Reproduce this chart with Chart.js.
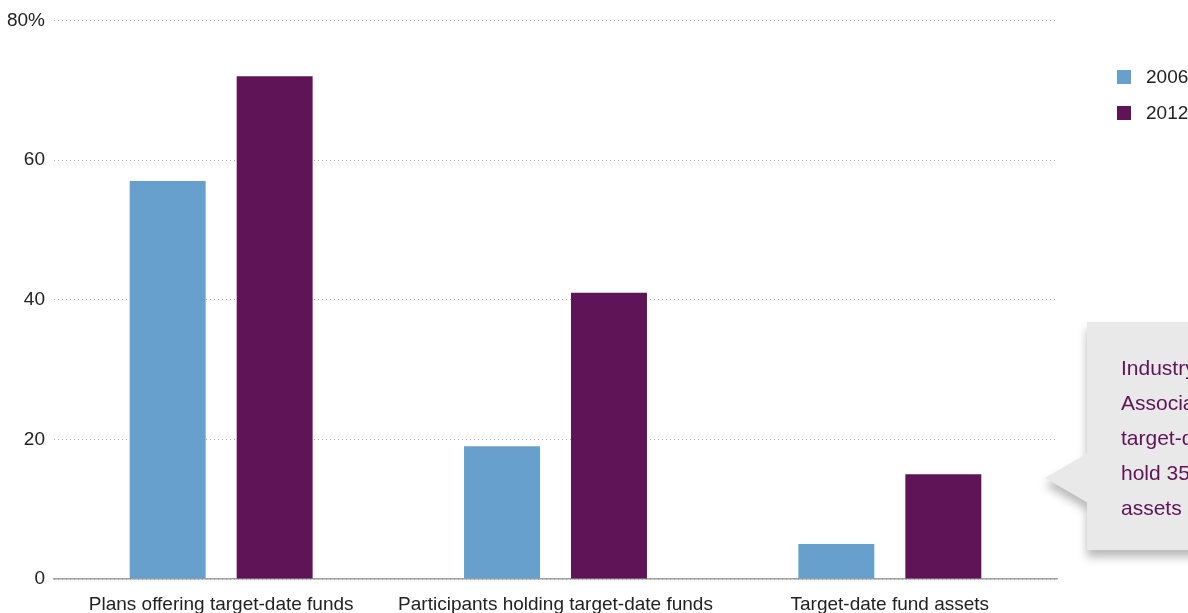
<!DOCTYPE html>
<html>
<head>
<meta charset="utf-8">
<script src="https://cdn.jsdelivr.net/npm/chart.js@4"></script>
<style>
    html, body { margin: 0; padding: 0; background: #fff; overflow: hidden; }
    #wrap { position: relative; width: 1188px; height: 613px; }
    #callout {
        position: absolute; left: 1045px; top: 322px; width: 260px; height: 228px;
        filter: drop-shadow(0 7px 5px rgba(0, 0, 0, 0.28));
    }
    #callout .box {
        position: absolute; left: 42px; top: 0; width: 218px; height: 228px; background: #e9e9e9;
    }
    #callout .tip {
        position: absolute; left: 0; top: 131px; width: 43px; height: 50px; background: #e9e9e9;
        clip-path: polygon(0 50%, 100% 0, 100% 100%);
    }
    #callout .text {
        position: absolute; left: 76px; top: 28px; color: #5e1456;
        font-family: "Liberation Sans Narrow", "Liberation Sans", sans-serif; font-size: 21px; line-height: 35px;
        white-space: nowrap;
    }
</style>
</head>
<body>
<div id="wrap">
    <canvas id="chart" width="1188" height="613"></canvas>
    <div id="callout">
        <div class="tip"></div>
        <div class="box"></div>
        <div class="text">Industry<br>Association<br>target-date<br>hold 35%<br>assets by</div>
    </div>
</div>
<script>
// Data
const categories = ['Plans offering target-date funds', 'Participants holding target-date funds', 'Target-date fund assets'];
const years = ['2006', '2012'];
const values2006 = [57, 19, 5];
const values2012 = [72, 41, 15];
const yTicks = [0, 20, 40, 60, 80];

const COLOR_2006 = '#67a0cc';
const COLOR_2012 = '#5e1456';
const FONT = '"Liberation Sans Narrow", "Liberation Sans", sans-serif';

// Legend drawn at top right
const legendPlugin = {
    id: 'sideLegend',
    afterDraw(chart) {
        const ctx = chart.ctx;
        ctx.save();
        chart.data.datasets.forEach((ds, i) => {
            const y = 70 + i * 36;
            ctx.fillStyle = ds.backgroundColor;
            ctx.fillRect(1117, y, 14, 14);
            ctx.fillStyle = '#222';
            ctx.font = '19px ' + FONT;
            ctx.textBaseline = 'middle';
            ctx.fillText(ds.label, 1146, y + 8);
        });
        ctx.restore();
    }
};

const ctx = document.getElementById('chart').getContext('2d');
new Chart(ctx, {
    type: 'bar',
    data: {
        labels: categories,
        datasets: [
            { label: years[0], data: values2006, backgroundColor: COLOR_2006 },
            { label: years[1], data: values2012, backgroundColor: COLOR_2012 }
        ]
    },
    options: {
        responsive: false,
        animation: false,
        events: [],
        layout: { padding: { top: 19, right: 131, left: 0, bottom: 0 } },
        categoryPercentage: 0.64,
        barPercentage: 0.71,
        plugins: {
            legend: { display: false },
            tooltip: { enabled: false }
        },
        scales: {
            x: {
                grid: { display: false },
                border: { display: true, color: '#a0a0a0', width: 1.5 },
                ticks: { color: '#222', font: { family: FONT, size: 19 }, padding: 6, maxRotation: 0 },
                afterFit(scale) { scale.height = 34; }
            },
            y: {
                min: 0,
                max: 80,
                afterBuildTicks(scale) { scale.ticks = yTicks.map(v => ({ value: v })); },
                grid: { color: '#a8a8a8', lineWidth: 1, drawTicks: false },
                border: { display: false, dash: [1, 3] },
                ticks: {
                    color: '#222',
                    font: { family: FONT, size: 19 },
                    padding: 9,
                    callback: v => v === 80 ? '80%' : v
                },
                afterFit(scale) { scale.width = 54; }
            }
        }
    },
    plugins: [legendPlugin]
});
</script>
</body>
</html>
